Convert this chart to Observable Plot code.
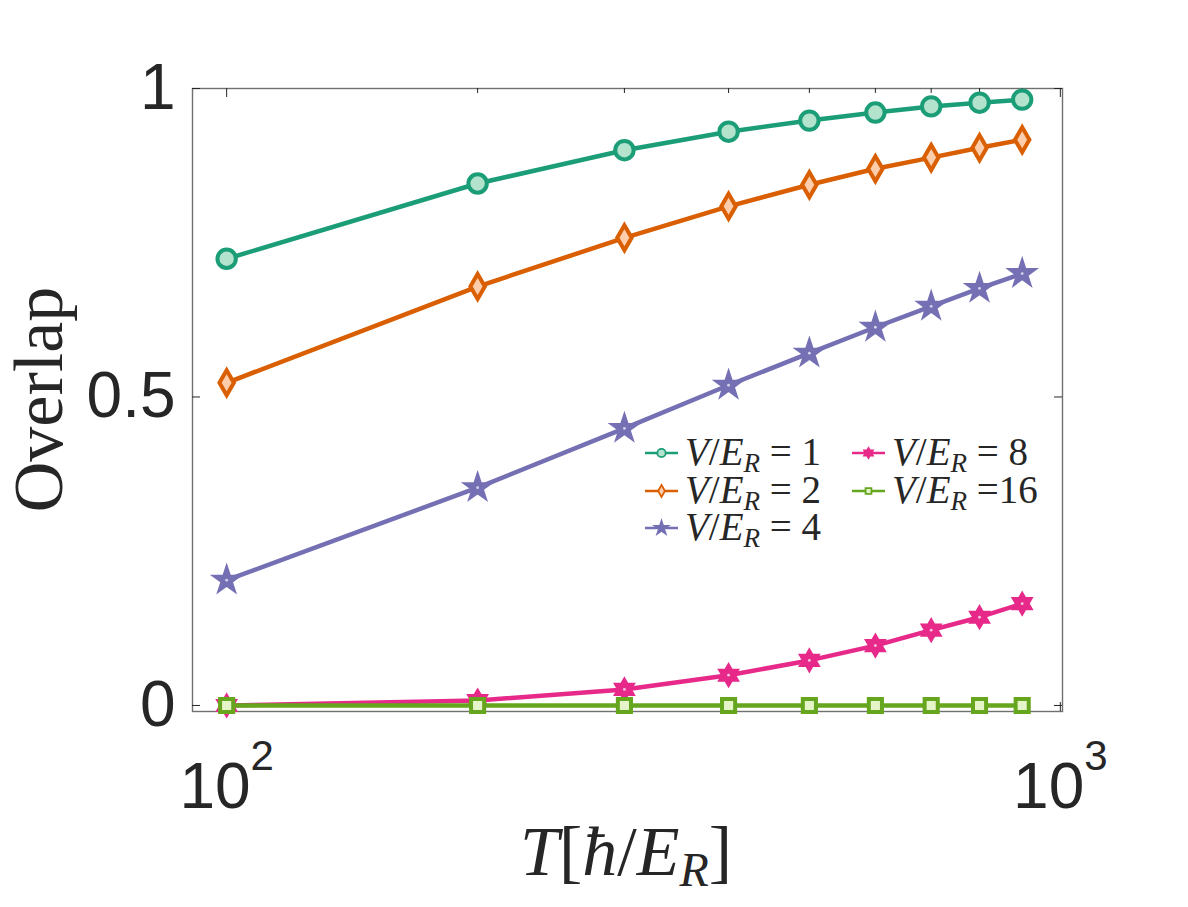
<!DOCTYPE html>
<html><head><meta charset="utf-8">
<script src="https://cdn.jsdelivr.net/npm/d3@7"></script>
<script src="https://cdn.jsdelivr.net/npm/@observablehq/plot@0.6"></script>
<style>
body{margin:0;background:#fff}
#chart{width:1188px;height:907px;position:relative}
</style>
</head><body><div id="chart"></div>
<script>
// ---- data ----
const T = [100, 200, 300, 400, 500, 600, 700, 800, 900];
const V1  = [0.724, 0.846, 0.900, 0.930, 0.948, 0.961, 0.971, 0.977, 0.982];
const V2  = [0.523, 0.679, 0.758, 0.809, 0.844, 0.870, 0.888, 0.904, 0.917];
const V4  = [0.203, 0.353, 0.449, 0.519, 0.571, 0.613, 0.647, 0.676, 0.700];
const V8  = [0.000, 0.008, 0.026, 0.049, 0.073, 0.097, 0.122, 0.143, 0.165];
const V16 = [0.000, 0.000, 0.000, 0.000, 0.000, 0.000, 0.000, 0.000, 0.000];
const seriesValues = [V1, V2, V4, V8, V16];
const seriesLabels = ["1", "2", "4", "8", "16"];
const strokes = ["#1b9e77", "#d95f02", "#7570b3", "#e7298a", "#66a61e"];
const fills   = ["#b3e2cd", "#fdcdac", "#7570b3", "#e7298a", "#e6f5c9"];
const centerDot = [null, null, "#d6d3ec", "#f6c6e2", null];
const yTicks = [0, 0.5, 1];
const xMajor = [100, 1000];
const xMinor = [200, 300, 400, 500, 600, 700, 800, 900];

// hexagram symbol
const hexagram = {
  draw(ctx, size) {
    const R = Math.sqrt(size / Math.PI) * 1.4, r = R / Math.sqrt(3);
    for (let k = 0; k < 12; k++) {
      const a = -Math.PI / 2 + k * Math.PI / 6, rr = k % 2 ? r : R;
      const x = rr * Math.cos(a), y = rr * Math.sin(a);
      k ? ctx.lineTo(x, y) : ctx.moveTo(x, y);
    }
    ctx.closePath();
  }
};
const symbols = ["circle", "diamond", "star", hexagram, "square"];
const symbolR = [9.2, 7.6, 8.2, 7.6, 7.4];
const symbolSW = [4, 4, 2.5, 2.5, 4];

const rows = [];
seriesValues.forEach((vals, s) => vals.forEach((v, j) => rows.push({T: T[j], v, s})));

const W = 1188, H = 907, ML = 192, MR = 126, MT = 88, MB = 196;
const FW = W - ML - MR, FH = H - MT - MB;
const axisColor = "#262626";

const marks = [];
seriesValues.forEach((_, s) => {
  const d = rows.filter(r => r.s === s);
  marks.push(Plot.line(d, {x: "T", y: "v", stroke: strokes[s], strokeWidth: 4.5}));
  marks.push(Plot.dot(d, {x: "T", y: "v", symbol: () => symbols[s], r: symbolR[s],
    fill: fills[s], stroke: strokes[s], strokeWidth: symbolSW[s], strokeLinejoin: "miter"}));
  if (centerDot[s]) marks.push(Plot.dot(d, {x: "T", y: "v", r: 1.4, fill: centerDot[s]}));
});

const plot = Plot.plot({
  width: W, height: H,
  marginLeft: ML, marginRight: MR, marginTop: MT, marginBottom: MB,
  style: {background: "#fff", fontFamily: "'Liberation Sans', Arial, sans-serif", color: axisColor},
  x: {type: "log", domain: [91, 1006]},
  y: {domain: [-0.0098, 1]},
  marks: [
    Plot.frame({stroke: "#707070", strokeWidth: 1.4}),
    // inward ticks
    Plot.tickY(yTicks, {y: d => d, stroke: axisColor, insetRight: FW - 8}),
    Plot.tickY(yTicks, {y: d => d, stroke: axisColor, insetLeft: FW - 8}),
    Plot.tickX(xMajor, {x: d => d, stroke: axisColor, insetBottom: FH - 9}),
    Plot.tickX(xMajor, {x: d => d, stroke: axisColor, insetTop: FH - 9}),
    Plot.tickX(xMinor, {x: d => d, stroke: axisColor, insetBottom: FH - 5}),
    Plot.tickX(xMinor, {x: d => d, stroke: axisColor, insetTop: FH - 5}),
    Plot.axisY(yTicks, {tickSize: 0, tickPadding: 17, fontSize: 64, label: null,
      tickFormat: d => String(d), fill: axisColor}),
    Plot.axisX(xMajor, {tickSize: 0, tickPadding: 51, fontSize: 64, label: null,
      tickFormat: d => "10^" + Math.round(Math.log10(d)), fill: axisColor}),
    ...marks
  ]
});
document.getElementById("chart").appendChild(plot);

const svg = d3.select(plot);
// superscripts for x tick labels
svg.selectAll('g[aria-label="x-axis tick label"] text').each(function() {
  const t = d3.select(this);
  const [base, exp] = t.text().split("^");
  t.text(null);
  t.append("tspan").text(base);
  t.append("tspan").attr("dy", -38).attr("font-size", 42).text(exp);
});

const serif = "'Liberation Serif', 'Times New Roman', 'DejaVu Serif', serif";
// y label
svg.append("text")
  .attr("transform", `translate(62,${MT + FH / 2}) rotate(-90)`)
  .attr("text-anchor", "middle").attr("font-family", serif).attr("font-size", 70)
  .attr("fill", axisColor).text("Overlap");
// x label  T[ħ/E_R]
const xl = svg.append("text")
  .attr("x", 626).attr("y", 875)
  .attr("text-anchor", "middle").attr("font-family", serif).attr("font-size", 70)
  .attr("fill", axisColor);
xl.append("tspan").attr("font-style", "italic").text("T");
xl.append("tspan").text("[");
xl.append("tspan").attr("font-style", "italic").text("ħ");
xl.append("tspan").text("/");
xl.append("tspan").attr("font-style", "italic").text("E");
xl.append("tspan").attr("font-style", "italic").attr("font-size", 48).attr("dy", 11).text("R");
xl.append("tspan").attr("dy", -11).text("]");

// legend
const legendPos = [
  {x: 645, y: 453}, {x: 645, y: 491}, {x: 645, y: 528},
  {x: 852, y: 453}, {x: 852, y: 491}
];
const legendSymR = [4.2, 3.6, 4.2, 3.6, 3.3];
const legendFill = ["#b3e2cd", "#fdcdac", "#7570b3", "#e7298a", "#e6f5c9"];
const lg = svg.append("g").attr("aria-label", "legend");
seriesLabels.forEach((lab, s) => {
  const p = legendPos[s];
  const g = lg.append("g").attr("transform", `translate(${p.x},${p.y})`);
  g.append("line").attr("x1", 0).attr("x2", 33).attr("y1", 0).attr("y2", 0)
    .attr("stroke", strokes[s]).attr("stroke-width", 2.5);
  const sym = typeof symbols[s] === "string"
    ? {circle: d3.symbolCircle, diamond: d3.symbolDiamond, star: d3.symbolStar, square: d3.symbolSquare}[symbols[s]]
    : symbols[s];
  g.append("path").attr("transform", "translate(16.5,0)")
    .attr("d", d3.symbol(sym, Math.PI * legendSymR[s] ** 2)())
    .attr("fill", legendFill[s]).attr("stroke", strokes[s]).attr("stroke-width", 1.8);
  const t = g.append("text").attr("x", 40).attr("y", 12).attr("text-anchor", "start")
    .attr("font-family", serif).attr("font-size", 39).attr("fill", axisColor);
  t.append("tspan").attr("font-style", "italic").text("V");
  t.append("tspan").text("/");
  t.append("tspan").attr("font-style", "italic").text("E");
  t.append("tspan").attr("font-style", "italic").attr("font-size", 27).attr("dy", 7).text("R");
  t.append("tspan").attr("dy", -7).text(lab === "16" ? " =16" : " = " + lab);
});
</script>
</body></html>
